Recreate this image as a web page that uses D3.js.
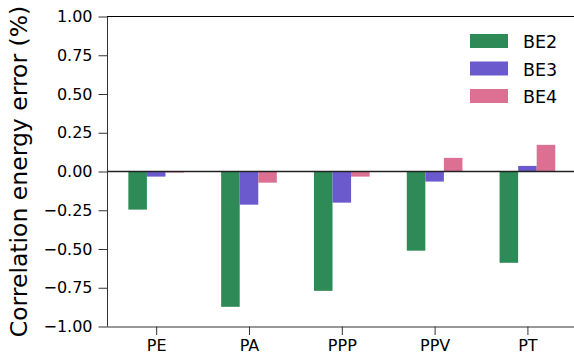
<!DOCTYPE html>
<html>
<head>
<meta charset="utf-8">
<script src="https://cdn.jsdelivr.net/npm/d3@7"></script>
<style>
  html, body { margin: 0; padding: 0; background: #fff; }
  svg { display: block; font-family: "DejaVu Sans", sans-serif; }
</style>
</head>
<body>
<svg id="chart" width="574" height="354"></svg>
<script>
// Categories, series and axis ticks
const categories = ["PE", "PA", "PPP", "PPV", "PT"];
const seriesNames = ["BE2", "BE3", "BE4"];
const seriesColors = ["#2e8b57", "#6a5acd", "#db7093"];
const be2 = [-0.246, -0.873, -0.770, -0.511, -0.589];
const be3 = [-0.033, -0.214, -0.201, -0.065, 0.036];
const be4 = [-0.007, -0.072, -0.033, 0.088, 0.172];
const yTicks = [-1.0, -0.75, -0.5, -0.25, 0.0, 0.25, 0.5, 0.75, 1.0];
const yLabel = "Correlation energy error (%)";

const series = [be2, be3, be4];
const barWidth = 0.2;

const svg = d3.select("#chart");
const plotLeft = 107, plotRight = 576.6, plotTop = 16.5, plotBottom = 326.5;

const x = d3.scaleLinear().domain([-0.53, 4.53]).range([plotLeft, plotRight]);
const y = d3.scaleLinear().domain([-1, 1]).range([plotBottom, plotTop]);

// Bars, grouped per category
series.forEach((vals, s) => {
  const offset = (s - 1) * barWidth;
  svg.append("g")
    .selectAll("rect")
    .data(vals)
    .join("rect")
    .attr("x", (d, i) => x(i + offset - barWidth / 2))
    .attr("width", (d, i) => x(i + offset + barWidth / 2) - x(i + offset - barWidth / 2))
    .attr("y", d => y(Math.max(0, d)))
    .attr("height", d => Math.abs(y(d) - y(0)))
    .attr("fill", seriesColors[s]);
});

// Zero reference line
svg.append("line")
  .attr("x1", plotLeft).attr("x2", plotRight)
  .attr("y1", y(0)).attr("y2", y(0))
  .attr("stroke", "#222").attr("stroke-width", 1.3);

// Y axis
const yAxis = svg.append("g")
  .attr("transform", `translate(${plotLeft},0)`)
  .call(d3.axisLeft(y).tickValues(yTicks).tickSize(8.5).tickPadding(6)
    .tickFormat(d => d3.format(".2f")(d).replace("-", "\u2212")));
yAxis.select(".domain").attr("stroke", "#333").attr("stroke-width", 1)
  .attr("d", `M0.5,${plotTop}V${plotBottom}`);
yAxis.selectAll(".tick line").attr("stroke", "#333");
yAxis.selectAll("text").attr("font-size", 16).attr("fill", "#000")
  .attr("font-family", "DejaVu Sans");

// X axis
const xAxis = svg.append("g")
  .attr("transform", `translate(0,${plotBottom})`)
  .call(d3.axisBottom(x).tickValues(d3.range(categories.length)).tickSize(8.5).tickPadding(4.5)
    .tickFormat(i => categories[i]));
xAxis.select(".domain").attr("stroke", "#333").attr("stroke-width", 1)
  .attr("d", `M${plotLeft},0.5H${plotRight}`);
xAxis.selectAll(".tick line").attr("stroke", "#333");
xAxis.selectAll("text").attr("font-size", 16).attr("fill", "#000")
  .attr("font-family", "DejaVu Sans");

// Top spine
svg.append("line")
  .attr("x1", plotLeft).attr("x2", plotRight)
  .attr("y1", plotTop).attr("y2", plotTop)
  .attr("stroke", "#000").attr("stroke-width", 1);

// Y axis title
svg.append("text")
  .attr("transform", `translate(27,${(plotTop + plotBottom) / 2}) rotate(-90)`)
  .attr("text-anchor", "middle")
  .attr("font-size", 23.5)
  .attr("fill", "#000")
  .text(yLabel);

// Legend
const legend = svg.append("g");
seriesNames.forEach((name, s) => {
  const top = 34 + s * 27.5;
  legend.append("rect")
    .attr("x", 470).attr("y", top)
    .attr("width", 38).attr("height", 14)
    .attr("fill", seriesColors[s]);
  legend.append("text")
    .attr("x", 523).attr("y", top + 14)
    .attr("font-size", 17.5)
    .attr("fill", "#000")
    .text(name);
});
</script>
</body>
</html>
